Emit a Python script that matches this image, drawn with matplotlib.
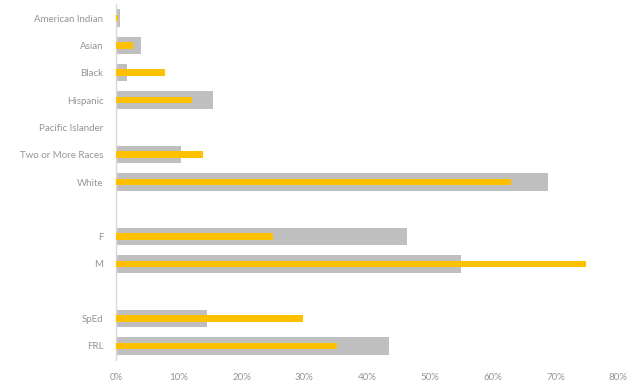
import matplotlib
matplotlib.use("Agg")
import matplotlib.pyplot as plt
import numpy as np
from matplotlib.ticker import PercentFormatter

categories = ["American Indian", "Asian", "Black", "Hispanic", "Pacific Islander",
              "Two or More Races", "White", "", "F", "M", "", "SpEd", "FRL"]
gray_values = [0.6, 4.0, 1.7, 15.4, 0.1, 10.3, 68.8, np.nan, 46.4, 55.0, np.nan, 14.5, 43.5]
orange_values = [0.4, 2.8, 7.8, 12.1, 0.0, 13.8, 63.0, np.nan, 25.1, 74.9, np.nan, 29.8, 35.2]
x_ticks = [0, 10, 20, 30, 40, 50, 60, 70, 80]

plt.rcParams['font.family'] = ['Lato', 'DejaVu Sans']
fig = plt.figure(figsize=(6.4, 3.91), dpi=100)
ax = fig.add_axes([0.181, 0.0803, 0.785, 0.9084])

y = np.arange(len(categories))
ax.barh(y, gray_values, height=0.64, color="#bfbfbf", zorder=2)
ax.barh(y, orange_values, height=0.24, color="#ffc000", zorder=3)

ax.set_ylim(len(categories) - 0.5, -0.5)
ax.set_xlim(0, 80)
ax.set_yticks(y)
ax.set_yticklabels(categories)
ax.set_xticks(x_ticks)
ax.xaxis.set_major_formatter(PercentFormatter(decimals=0))

for s in ["top", "right", "bottom"]:
    ax.spines[s].set_visible(False)
ax.spines["left"].set_color("#d9d9d9")
ax.spines["left"].set_linewidth(1.0)
ax.tick_params(axis="both", length=0, colors="#959595", labelsize=7.0)
ax.tick_params(axis="y", pad=9)
ax.tick_params(axis="x", pad=10)

fig.savefig("out.png", dpi=100)
